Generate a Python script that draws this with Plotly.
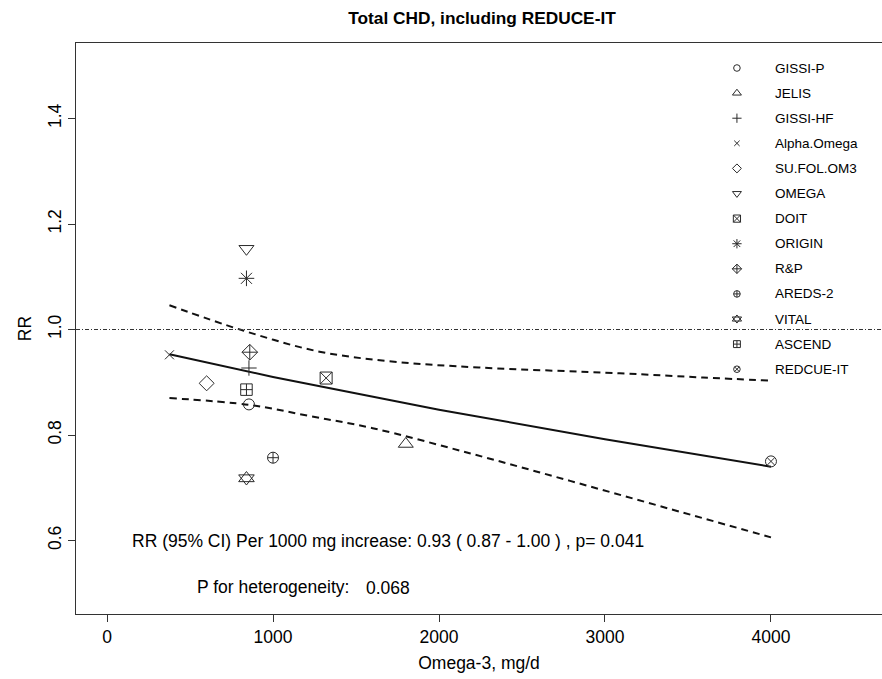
import plotly.graph_objects as go

# ---------------- data ----------------
studies = ["GISSI-P", "JELIS", "GISSI-HF", "Alpha.Omega", "SU.FOL.OM3", "OMEGA",
           "DOIT", "ORIGIN", "R&P", "AREDS-2", "VITAL", "ASCEND", "REDCUE-IT"]
dose_mg = [855, 1800, 855, 376, 600, 840, 1320, 840, 860, 1000, 840, 840, 4000]
rr = [0.858, 0.783, 0.927, 0.952, 0.898, 1.153, 0.908, 1.097, 0.957, 0.757, 0.718, 0.886, 0.750]

fit_x = [376, 1000, 2000, 3000, 4000]
fit_rr = [0.953, 0.910, 0.848, 0.792, 0.740]

upper_x = [376, 820, 1280, 1730, 2240, 3090, 3590, 4000]
upper_rr = [1.046, 0.998, 0.958, 0.939, 0.928, 0.917, 0.909, 0.903]

lower_x = [376, 860, 1220, 1600, 2190, 2790, 3390, 4000]
lower_rr = [0.870, 0.857, 0.836, 0.813, 0.765, 0.713, 0.660, 0.606]

x_ticks = [0, 1000, 2000, 3000, 4000]
y_ticks = [0.6, 0.8, 1.0, 1.2, 1.4]
y_ticklabels = ["0.6", "0.8", "1.0", "1.2", "1.4"]

summary_text = "RR (95% CI) Per 1000 mg increase: 0.93 ( 0.87 - 1.00 ) , p= 0.041"
het_label = "P for heterogeneity:"
het_value = "0.068"

# ---------------- styles ----------------
# each study gets one or more overlaid plotly symbols (VITAL = triangles up and down)
symbols = [["circle-open"], ["triangle-up-open"], ["cross-thin-open"], ["x-thin-open"],
           ["diamond-open"], ["triangle-down-open"], ["square-x-open"], ["asterisk-open"],
           ["diamond-cross-open"], ["circle-cross-open"],
           ["triangle-up-open", "triangle-down-open"],
           ["square-cross-open"], ["circle-x-open"]]
sizes = [11, 13, 11, 9, 11.5, 13, 12, 13, 12, 11, 13.5, 11.5, 11]
FONT = "Liberation Sans, Arial, sans-serif"
MK = "#2a2a2a"

fig = go.Figure()

# reference line at RR = 1
fig.add_shape(type="line", xref="paper", x0=0, x1=1, yref="y", y0=1, y1=1,
              line=dict(color="#333333", width=1, dash="4px,2px,1px,2px"))

# regression and CI curves
fig.add_trace(go.Scatter(x=fit_x, y=fit_rr, mode="lines",
                         line=dict(color="#111111", width=2), showlegend=False))
fig.add_trace(go.Scatter(x=upper_x, y=upper_rr, mode="lines", line_shape="spline",
                         line=dict(color="#111111", width=2, dash="7px,5px"), showlegend=False))
fig.add_trace(go.Scatter(x=lower_x, y=lower_rr, mode="lines", line_shape="spline",
                         line=dict(color="#111111", width=2, dash="7px,5px"), showlegend=False))

# study points
for name, xd, yd, syms, sz in zip(studies, dose_mg, rr, symbols, sizes):
    for sym in syms:
        fig.add_trace(go.Scatter(x=[xd], y=[yd], mode="markers", name=name,
                                 marker=dict(symbol=sym, size=sz, color=MK,
                                             line=dict(color=MK, width=1)),
                                 showlegend=False))

# hand-drawn legend (R style, no box), placed in user coordinates
PX_Y = 527.5      # px per RR unit
leg_sym_x = 3795
leg_txt_x = 4012
leg_top = 1.4957
leg_step = 25.1 / PX_Y
for i, (name, syms, sz) in enumerate(zip(studies, symbols, sizes)):
    yy = leg_top - i * leg_step
    for sym in syms:
        fig.add_trace(go.Scatter(x=[leg_sym_x], y=[yy], mode="markers",
                                 marker=dict(symbol=sym, size=sz * 0.6, color=MK,
                                             line=dict(color=MK, width=1)),
                                 showlegend=False, hoverinfo="skip"))
    fig.add_annotation(x=leg_txt_x, y=yy, text=name, showarrow=False,
                       xanchor="left", yanchor="middle",
                       font=dict(family=FONT, size=13.5, color="black"))

# text annotations
fig.add_annotation(x=1690, y=0.599, text=summary_text, showarrow=False,
                   xanchor="center", yanchor="middle",
                   font=dict(family=FONT, size=17.5, color="black"))
fig.add_annotation(x=997, y=0.512, text=het_label, showarrow=False,
                   xanchor="center", yanchor="middle",
                   font=dict(family=FONT, size=17.5, color="black"))
fig.add_annotation(x=1693, y=0.510, text=het_value, showarrow=False,
                   xanchor="center", yanchor="middle",
                   font=dict(family=FONT, size=17.5, color="black"))

fig.update_layout(
    width=882, height=679,
    margin=dict(l=76, r=0, t=43, b=65),
    paper_bgcolor="white", plot_bgcolor="white",
    font=dict(family=FONT, size=17.5, color="black"),
    title=dict(text="<b>Total CHD, including REDUCE-IT</b>", x=482 / 882, xanchor="center",
               xref="container", y=1 - 18 / 679, yanchor="middle",
               font=dict(family=FONT, size=17.3, color="black")),
    showlegend=False,
)
fig.update_xaxes(range=[-187, 4669], tickvals=x_ticks, ticks="outside", ticklen=7,
                 tickcolor="#333333", showline=True, linecolor="#333333", linewidth=1,
                 mirror=True, showgrid=False, zeroline=False,
                 title=dict(text="Omega-3, mg/d", standoff=10,
                            font=dict(family=FONT, size=17.5)),
                 tickfont=dict(family=FONT, size=17.5))
fig.update_yaxes(range=[0.4607, 1.5431], tickvals=y_ticks, ticktext=y_ticklabels,
                 ticks="outside", ticklen=7, tickcolor="#333333", tickangle=-90,
                 showline=True, linecolor="#333333", linewidth=1, mirror=False,
                 showgrid=False, zeroline=False,
                 title=dict(text="RR", standoff=8, font=dict(family=FONT, size=17.5)),
                 tickfont=dict(family=FONT, size=17.5))

fig.write_html("out.html", config={"displayModeBar": False},
               post_script="document.body.style.margin='0';document.body.style.overflow='hidden';")
